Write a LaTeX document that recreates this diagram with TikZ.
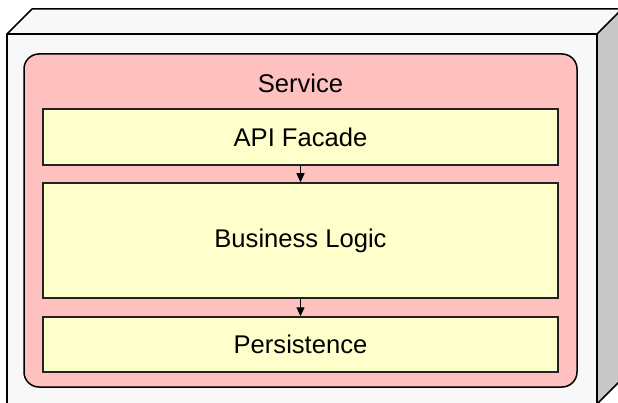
\documentclass[tikz,border=0pt]{standalone}
\usepackage{fontspec}
\setmainfont{Liberation Sans}
\usetikzlibrary{arrows.meta}
\definecolor{facefront}{HTML}{F8F8F8}
\definecolor{faceside}{HTML}{C8C8C8}
\definecolor{svcpink}{HTML}{FFC0C0}
\definecolor{layeryellow}{HTML}{FFFFCC}
\definecolor{edgedark}{HTML}{222222}
\tikzset{
  face/.style={draw=black, line width=1.5pt, line join=round},
  layerbox/.style={draw=edgedark, line width=1.5pt, fill=layeryellow, minimum width=515pt, inner sep=0pt,
     font=\fontsize{25.6}{30}\selectfont},
  callarrow/.style={draw=black, line width=1.2pt, -{Triangle[length=9pt,width=8pt]}}
}
\begin{document}
\begin{tikzpicture}[x=1pt,y=-1pt]
\useasboundingbox (0,0) rectangle (618,403);
\clip (0,0) rectangle (618,403);
% 3D node box
\coordinate (ftl) at (7,34);
\coordinate (ftr) at (597,34);
\coordinate (fbr) at (597,404);
\coordinate (fbl) at (7,404);
\coordinate (btl) at (32,9);
\coordinate (btr) at (622,9);
\coordinate (bbr) at (622,379);
\fill[facefront] (ftl) -- (btl) -- (btr) -- (ftr) -- cycle;
\fill[faceside] (ftr) -- (btr) -- (bbr) -- (fbr) -- cycle;
\fill[facefront] (ftl) rectangle (fbr);
\draw[face] (ftl) -- (btl) -- (btr) -- (bbr) -- (fbr);
\draw[face] (fbl) -- (ftl) -- (ftr) -- (fbr);
\draw[face] (ftr) -- (btr);
% Service container
\node[draw=black, line width=1.5pt, fill=svcpink, rounded corners=15pt, minimum width=553pt, minimum height=333pt, inner sep=0pt] (service) at (300.5,220.5) {};
\node[font=\fontsize{25.6}{30}\selectfont] (servicelabel) at (300.5,83) {Service};
% Layers
\node[layerbox, minimum height=56pt] (api) at (300.5,137) {API Facade};
\node[layerbox, minimum height=115pt] (logic) at (300.5,240.5) {Business Logic};
\node[layerbox, minimum height=55pt] (persist) at (300.5,344.5) {Persistence};
\draw[callarrow] (api) -- (logic);
\draw[callarrow] (logic) -- (persist);
\end{tikzpicture}
\end{document}
